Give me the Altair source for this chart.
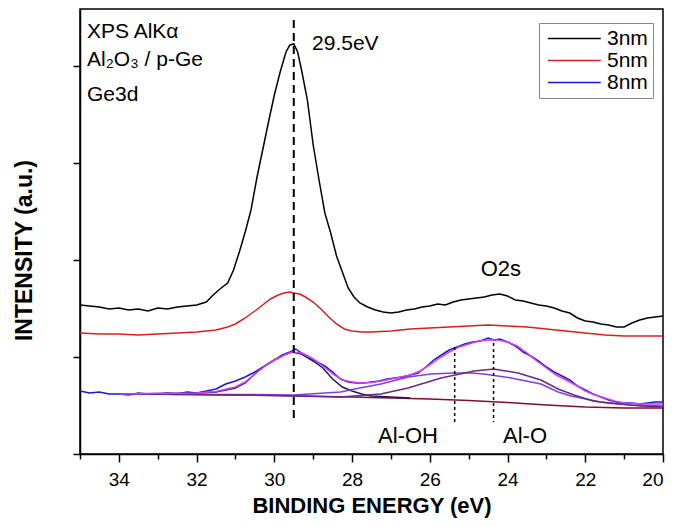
import altair as alt
import pandas as pd

# ---------------- data (binding energy in eV, intensity in a.u.) ----------------
E_3nm = [35.0, 34.75, 34.5, 34.25, 34.0, 33.75, 33.5, 33.25, 33.0, 32.75, 32.5, 32.25, 32.0, 31.75, 31.6,
         31.4, 31.2, 31.05, 30.9, 30.75, 30.6, 30.45, 30.3, 30.15, 30.0, 29.85, 29.7, 29.6, 29.5, 29.4,
         29.3, 29.15, 29.0, 28.85, 28.7, 28.55, 28.4, 28.25, 28.1, 27.95, 27.8, 27.6, 27.4, 27.2, 27.0,
         26.8, 26.6, 26.4, 26.2, 26.0, 25.8, 25.6, 25.4, 25.2, 25.0, 24.8, 24.6, 24.4, 24.2, 24.0,
         23.8, 23.6, 23.4, 23.2, 23.0, 22.8, 22.6, 22.4, 22.2, 22.0, 21.8, 21.6, 21.4, 21.2, 21.0,
         20.8, 20.6, 20.4, 20.2, 20.0]
I_3nm = [149, 148, 147, 145, 146, 144, 145, 143, 146, 145, 147, 148, 149, 152, 158,
         165, 171, 184, 202, 222, 244, 276, 304, 332, 359, 382, 402, 409, 410, 402,
         384, 354, 309, 274, 241, 221, 198, 182, 166, 157, 151, 147, 144, 142, 141,
         142, 144, 145, 147, 148, 150, 149, 152, 154, 155, 156, 157, 159, 160, 158,
         154, 153, 151, 149, 148, 146, 143, 141, 136, 133, 132, 130, 129, 127, 127,
         131, 134, 136, 137, 138]

E_5nm = [35.0, 34.5, 34.0, 33.5, 33.0, 32.5, 32.0, 31.5, 31.2, 31.0, 30.75, 30.5, 30.3, 30.1, 29.9,
         29.75, 29.6, 29.5, 29.35, 29.2, 29.0, 28.8, 28.6, 28.4, 28.2, 28.0, 27.75, 27.5, 27.0, 26.5,
         26.0, 25.5, 25.0, 24.5, 24.0, 23.5, 23.0, 22.5, 22.0, 21.5, 21.0, 20.5, 20.0]
I_5nm = [121, 120, 120, 119, 120, 121, 122, 124, 127, 130, 136, 143, 149, 155, 159,
         161, 162, 161, 160, 157, 152, 145, 137, 130, 125, 123, 122, 122, 123, 125,
         126, 127, 128, 129, 128, 127, 125, 123, 121, 119, 118, 118, 118]

E_8nm = [35.0, 34.75, 34.5, 34.25, 34.0, 33.75, 33.5, 33.25, 33.0, 32.75, 32.5, 32.25, 32.0, 31.75, 31.5,
         31.25, 31.0, 30.75, 30.5, 30.25, 30.0, 29.8, 29.6, 29.45, 29.3, 29.1, 28.9, 28.7, 28.5, 28.3,
         28.1, 27.9, 27.7, 27.5, 27.3, 27.1, 26.9, 26.7, 26.5, 26.3, 26.1, 25.9, 25.7, 25.5, 25.3,
         25.1, 24.9, 24.7, 24.5, 24.35, 24.2, 24.0, 23.8, 23.6, 23.4, 23.2, 23.0, 22.8, 22.6, 22.4,
         22.2, 22.0, 21.8, 21.6, 21.4, 21.2, 21.0, 20.8, 20.6, 20.4, 20.2, 20.0]
I_8nm = [63, 61, 62, 60, 60, 59, 61, 60, 60, 61, 60, 62, 61, 63, 65,
         70, 73, 77, 82, 88, 94, 99, 102, 105, 101, 97, 92, 88, 82, 75,
         72, 71, 71, 72, 73, 75, 76, 77, 79, 81, 87, 94, 99, 104, 107,
         110, 112, 113, 116, 114, 115, 112, 108, 102, 98, 93, 87, 82, 78, 74,
         68, 64, 60, 57, 54, 52, 51, 51, 50, 51, 52, 52]

# fitted components of the 8nm spectrum
E_bg = [34.0, 32.0, 30.0, 28.0, 26.0, 25.0, 24.0, 23.0, 22.0, 21.0, 20.0]
I_bg = [60, 59.5, 58.5, 57, 55, 53.5, 51.5, 49, 47, 46, 46]

E_ge = [34.0, 32.0, 31.5, 31.0, 30.75, 30.5, 30.25, 30.0, 29.75, 29.55, 29.3, 29.0, 28.75, 28.5, 28.25,
        28.0, 27.75, 27.5, 27.0, 26.5]
I_ge = [60, 61, 62, 66, 71, 80, 88, 94, 99, 102, 100, 93, 86, 75, 67,
        63, 60, 58, 57, 56]

E_aloh = [34.0, 31.9, 30.5, 29.5, 28.3, 27.8, 27.26, 26.56, 25.97, 25.38, 24.94, 24.61, 23.91, 23.14, 22.7,
          22.37, 21.6, 20.82, 20.0]
I_aloh = [60, 59.5, 59.5, 59, 62, 66, 70, 77, 80, 81, 81, 80, 76, 70, 62,
          58, 52, 49, 48]

E_alo = [34.0, 32.0, 30.0, 28.29, 27.26, 26.56, 25.71, 24.86, 24.35, 23.73, 23.14, 22.7, 22.29, 21.8, 21.42,
         20.57, 20.0]
I_alo = [60, 59.5, 58.5, 57, 60, 66, 76, 83, 85, 81, 74, 65, 59, 53, 51,
         48, 47]

E_env = [34.0, 32.0, 31.5, 31.0, 30.75, 30.5, 30.25, 30.0, 29.75, 29.55, 29.3, 29.0, 28.75, 28.5, 28.25,
         28.0, 27.75, 27.5, 27.25, 27.0, 26.75, 26.5, 26.25, 26.0, 25.75, 25.5, 25.25, 25.0, 24.75, 24.5,
         24.25, 24.0, 23.75, 23.5, 23.25, 23.0, 22.75, 22.5, 22.25, 22.0, 21.75, 21.5, 21.25, 21.0, 20.5,
         20.0]
I_env = [60, 61, 62.5, 67, 72, 80, 88, 94, 99, 102, 101, 95, 88, 80, 74,
         72, 71, 71.5, 73, 75, 77, 79, 83, 89, 96, 102, 107, 110, 113, 114,
         114, 112, 108, 101, 93, 86, 79, 74, 69, 63, 59, 56, 53, 51, 50,
         50]

series_names = ["3nm", "5nm", "8nm"]
series_colors = ["#000000", "#d62020", "#1a1acc"]

# reference lines: energy, top, bottom
rule_E = [29.5, 25.36, 24.36]
rule_top = [434, 107, 111]
rule_bot = [32, 32, 32]

# annotations
note_text = ["XPS AlK\u03b1", "Al\u2082O\u2083 / p-Ge", "Ge3d", "29.5eV"]
note_E = [34.82, 34.82, 34.82, 29.03]
note_I = [416, 388, 353, 404]
peak_text = ["O2s", "Al-OH", "Al-O"]
peak_E = [24.17, 26.56, 23.55]
peak_I = [178, 11, 11]

y_ticks = [0, 97, 194, 291, 388]

# ---------------- build ----------------
rows = []
for name, es, vs in zip(series_names, [E_3nm, E_5nm, E_8nm], [I_3nm, I_5nm, I_8nm]):
    for e, v in zip(es, vs):
        rows.append({"series": name, "E": e, "I": v})
spectra = pd.DataFrame(rows)


def comp(es, vs):
    return pd.DataFrame({"E": es, "I": vs})


FONT = "Liberation Sans"

X = alt.X("E:Q",
          scale=alt.Scale(domain=[20, 35], reverse=True, nice=False, zero=False),
          axis=alt.Axis(values=list(range(20, 36)),
                        labelExpr="datum.value % 2 == 0 ? datum.label : ''",
                        tickSize={"condition": {"test": "datum.value % 2 == 0", "value": 8}, "value": 5},
                        labelPadding=8, labelFontSize=19,
                        titleFontSize=22, titleFontWeight="bold",
                        titleBaseline="alphabetic", titleY=58),
          title="BINDING ENERGY (eV)")
Y = alt.Y("I:Q",
          scale=alt.Scale(domain=[0, 445], nice=False, zero=False),
          axis=alt.Axis(values=y_ticks, labels=False, tickSize=7,
                        titleFontSize=23, titleFontWeight="bold",
                        titleAngle=270, titleAlign="center", titleBaseline="middle",
                        titleX=-56, titleY=241),
          title="INTENSITY (a.u.)")

layers = []
for es, vs, col in [(E_bg, I_bg, "#7b1028"), (E_ge, I_ge, "#1c1c5c"),
                    (E_aloh, I_aloh, "#7b3fe4"), (E_alo, I_alo, "#6a2a78")]:
    layers.append(alt.Chart(comp(es, vs)).mark_line(strokeWidth=1.5).encode(
        x=X, y=Y, color=alt.value(col)))

lines = alt.Chart(spectra).mark_line(strokeWidth=1.5).encode(
    x=X, y=Y,
    color=alt.Color("series:N",
                    scale=alt.Scale(domain=series_names, range=series_colors),
                    legend=alt.Legend(title=None, orient="none", legendX=459, legendY=14,
                                      symbolType="M-1,0H7", symbolSize=175, symbolStrokeWidth=1.5,
                                      labelFontSize=21, labelFont=FONT, labelColor="black",
                                      labelOffset=42, strokeColor="#888888", fillColor="white",
                                      padding=5, rowPadding=0)))
layers.append(lines)

layers.append(alt.Chart(comp(E_env, I_env)).mark_line(strokeWidth=1.5).encode(
    x=X, y=Y, color=alt.value("#d63cf0")))

rules = pd.DataFrame({"E": rule_E, "I": rule_top, "I2": rule_bot, "kind": ["main", "sub", "sub"]})
layers.append(alt.Chart(rules[rules.kind == "main"]).mark_rule(
    color="black", strokeWidth=2, strokeDash=[8, 5]).encode(x=X, y=Y, y2="I2:Q"))
layers.append(alt.Chart(rules[rules.kind == "sub"]).mark_rule(
    color="black", strokeWidth=1.5, strokeDash=[3, 3]).encode(x=X, y=Y, y2="I2:Q"))

notes = pd.DataFrame({"E": note_E, "I": note_I, "t": note_text})
layers.append(alt.Chart(notes).mark_text(
    align="left", baseline="alphabetic", fontSize=21, font=FONT, color="black").encode(
    x=X, y=Y, text="t:N"))
peaks = pd.DataFrame({"E": peak_E, "I": peak_I, "t": peak_text})
layers.append(alt.Chart(peaks).mark_text(
    align="center", baseline="alphabetic", fontSize=22, font=FONT, color="black").encode(
    x=X, y=Y, text="t:N"))

chart = alt.layer(*layers).properties(
    width=583, height=445,
    autosize=alt.AutoSizeParams(type="none"),
    padding={"left": 72, "top": 1, "right": 3, "bottom": 64},
    background="white",
).configure_view(stroke="black", strokeWidth=1.5).configure_axis(
    grid=False, domainColor="black", domainWidth=1.5, tickColor="black", tickWidth=1.5,
    labelColor="black", titleColor="black", labelFont=FONT, titleFont=FONT,
)

chart.save("out.html", embed_options={"renderer": "svg", "actions": False})
